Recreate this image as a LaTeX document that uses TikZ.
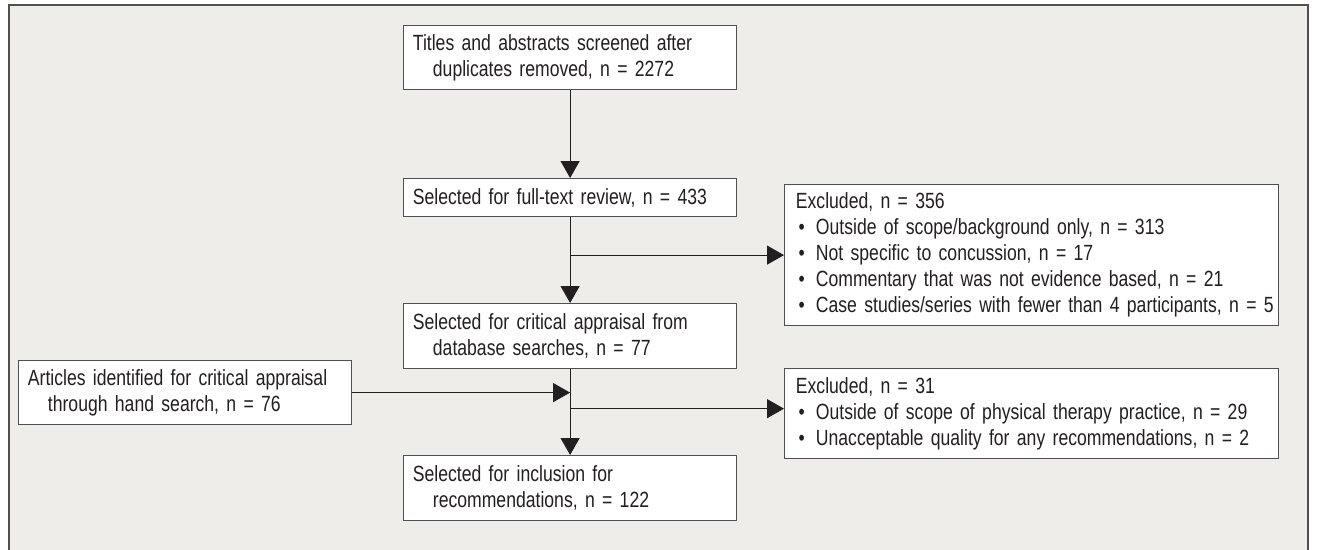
\documentclass[tikz,border=0pt]{standalone}
\usepackage{fontspec}
\setmainfont[FakeStretch=0.80]{Liberation Sans}
\usepackage{tikz}
\usetikzlibrary{arrows.meta,calc}

\definecolor{panel}{HTML}{EEEDEA}
\definecolor{edge}{HTML}{505050}
\definecolor{ink}{HTML}{231F20}

\newcommand{\wrapline}{\\\hspace*{15pt}}
\newcommand{\reason}[1]{\\\hspace*{2pt}\makebox[13pt][l]{\textbullet}\mbox{#1}}

\begin{document}
\begin{tikzpicture}[x=0.75pt,y=-0.75pt,
  stage/.style={draw=edge,fill=white,line width=0.9pt,anchor=north west,
    inner xsep=7pt,inner ysep=0pt,text width=235.75pt,align=left,
    font=\fontsize{16.5}{19.5}\selectfont,text=ink},
  outbox/.style={stage,inner xsep=8.5pt,text width=353.5pt},
  arr/.style={-{Triangle[length=12.75pt,width=14.25pt]},line width=0.9pt,draw=ink}]
  %\draw[step=100] (0,0) grid (1318,550);
  \useasboundingbox (0,0) rectangle (1318,550);

  \fill[panel] (9,5) rectangle (1308,560);
  \draw[edge,line width=1.4pt] (9,560) -- (9,5) -- (1308,5) -- (1308,560);

  \node[stage,minimum height=48pt] (titles) at (403,25)
  {Titles and abstracts screened after\wrapline duplicates removed, n = 2272};
  \node[stage,minimum height=28.5pt] (fulltext) at (403,178)
  {Selected for full-text review, n = 433};
  \node[stage,minimum height=48.75pt] (critical) at (403,303)
  {Selected for critical appraisal from\wrapline database searches, n = 77};
  \node[stage,minimum height=48.75pt] (included) at (403,455)
  {Selected for inclusion for\wrapline recommendations, n = 122};
  \node[stage,minimum height=48pt] (handsearch) at (18,360)
  {Articles identified for critical appraisal\wrapline through hand search, n = 76};

  \node[outbox,minimum height=105.75pt] (excluded1) at (784,184)
  {Excluded, n = 356
   \reason{Outside of scope/background only, n = 313}
   \reason{Not specific to concussion, n = 17}
   \reason{Commentary that was not evidence based, n = 21}
   \reason{Case studies/series with fewer than 4 participants, n = 5}};
  \node[outbox,minimum height=67.5pt] (excluded2) at (784,368)
  {Excluded, n = 31
   \reason{Outside of scope of physical therapy practice, n = 29}
   \reason{Unacceptable quality for any recommendations, n = 2}};

  \draw[arr] (titles) -- (fulltext);
  \draw[arr] (fulltext) -- (critical);
  \draw[arr] (critical) -- (included);
  \draw[arr] (fulltext.south |- excluded1.west) -- (excluded1.west);

  \coordinate (merge) at (critical.south |- handsearch.east);
  \draw[arr] (handsearch) -- (merge);
  \coordinate (split) at ($(critical.south)!0.46!(included.north)$);
  \draw[arr] (split) -- (split -| excluded2.west);
\end{tikzpicture}
\end{document}
